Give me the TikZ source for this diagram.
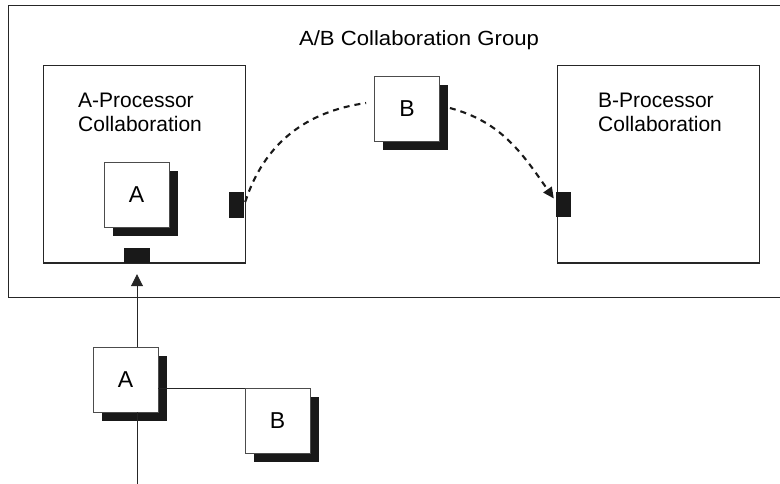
\documentclass[tikz,border=0pt]{standalone}
\usepackage{fontspec}
\setmainfont{Liberation Sans}
\usetikzlibrary{shadows,arrows.meta}
\begin{document}
\begin{tikzpicture}[x=1pt,y=-1pt,
  frame/.style={draw=black!85, line width=1pt, inner sep=0pt},
  part/.style={draw=black!70, line width=0.8pt, fill=white, minimum size=65pt, inner sep=0pt,
    font=\fontsize{23}{24}\selectfont,
    drop shadow={shadow xshift=8.5pt, shadow yshift=-8.5pt, fill=black!90, opacity=1}},
  port/.style={fill=black!90, inner sep=0pt},
  lbl/.style={font=\fontsize{21}{24}\selectfont, align=left, anchor=north west, inner sep=0pt},
  flow/.style={draw=black!85, line width=0.9pt},
  msg/.style={draw=black!90, line width=2.1pt, dash pattern=on 6pt off 5pt}
]
\useasboundingbox (0,0) rectangle (780,484);
\clip (0,0) rectangle (780,484);
% frames
\node[frame, minimum width=774pt, minimum height=291pt] (group) at (395,151.5) {};
\node[frame, minimum width=202pt, minimum height=197pt] (left) at (144,164.5) {};
\node[frame, minimum width=202pt, minimum height=197pt] (right) at (658,164.5) {};
\node[anchor=base, inner sep=0pt, font=\fontsize{20.5}{24}\selectfont] (title) at (419,46) {\scalebox{1.08}[1]{A/B Collaboration Group}};
\node[lbl] (ltext) at (78,93) {A-Processor\\Collaboration};
\node[lbl] (rtext) at (598,93) {B-Processor\\Collaboration};
% ports
\node[port, minimum width=15pt, minimum height=26pt] (p1) at (236.5,205) {};
\node[port, minimum width=15pt, minimum height=25pt] (p2) at (563.5,204.5) {};
\node[port, minimum width=26pt, minimum height=15pt] (p3) at (137,255.5) {};
% parts
\node[part] (Ai) at (136.5,195) {A};
\node[part] (Bt) at (407,109) {B};
\node[part] (Ab) at (125.5,379.5) {A};
\node[part] (Bb) at (277.5,421) {B};
% connectors
\coordinate (inlet) at (137,486);
\draw[flow, -{Triangle[length=12pt,width=12pt]}, shorten >=11pt] (Ab.north -| p3) -- (p3.south);
\draw[flow] (inlet) -- (inlet |- Ab.south);
\draw[flow] (Bb.north west) -- (Bb.north west -| Ab.east);
\draw[msg] ([xshift=1pt,yshift=3pt]p1.east) to[out=72,in=188] ([xshift=-8pt,yshift=6pt]Bt.west);
\draw[msg, -{Triangle[length=11pt,width=10pt]}] ([xshift=10pt,yshift=1pt]Bt.east) to[out=-15,in=125] ([xshift=-2pt,yshift=6pt]p2.west);
\end{tikzpicture}
\end{document}
